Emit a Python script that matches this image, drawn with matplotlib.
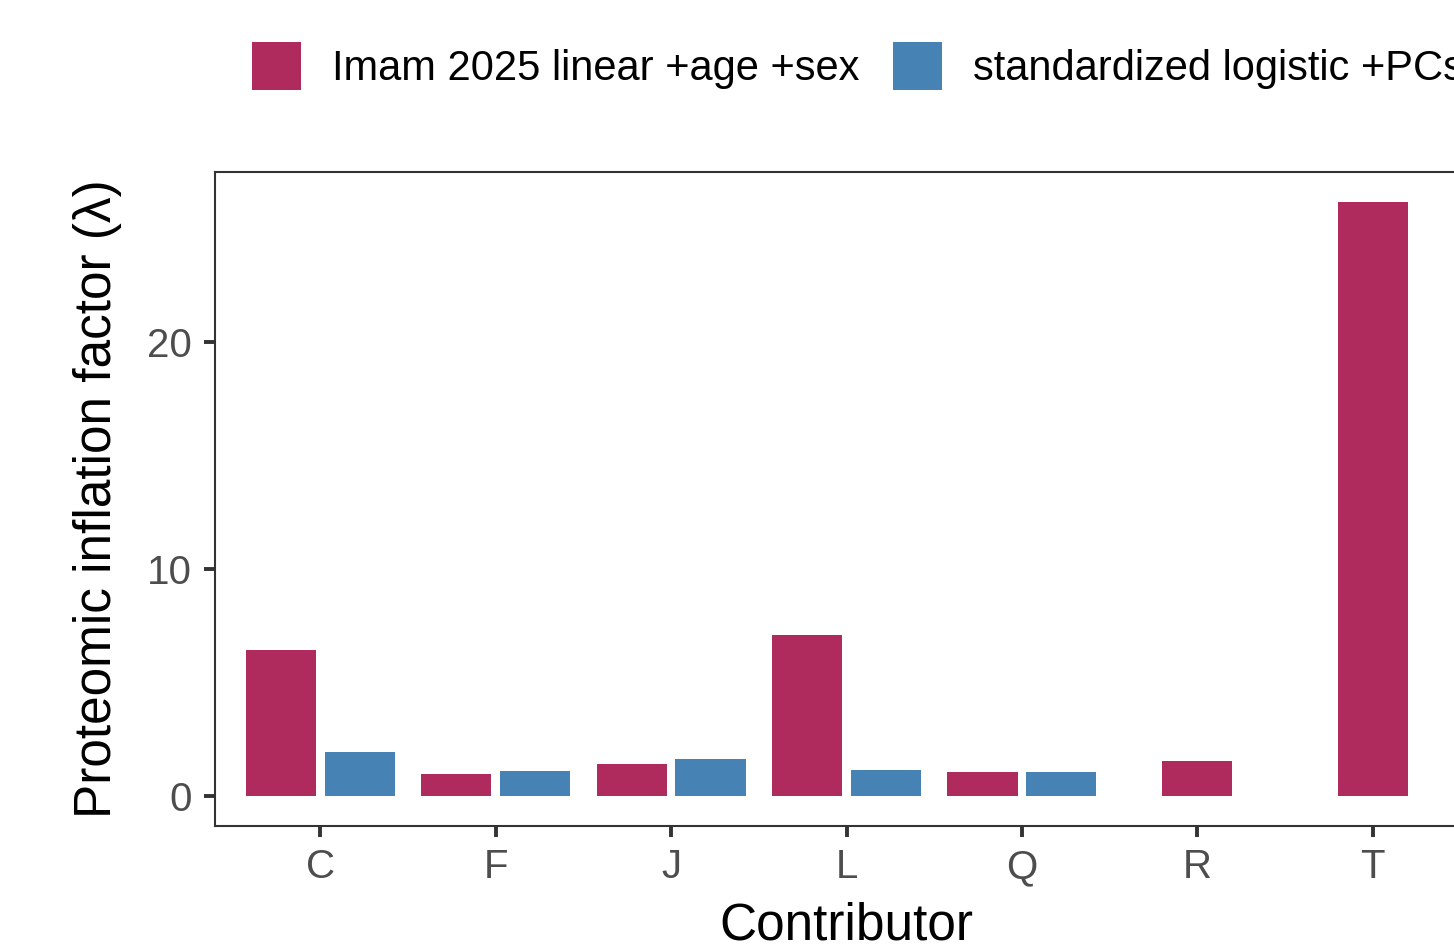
import numpy as np
import matplotlib
matplotlib.use("Agg")
import matplotlib.pyplot as plt
from matplotlib.patches import Patch

plt.rcParams['font.family'] = ['Liberation Sans', 'DejaVu Sans']

# Inflation factors per contributor
categories = ['C', 'F', 'J', 'L', 'Q', 'R', 'T']
imam_linear = [6.43, 1.00, 1.44, 7.09, 1.05, 1.53, 26.15]
std_logistic = [1.93, 1.09, 1.62, 1.14, 1.05, np.nan, np.nan]
series_names = ['Imam 2025 linear +age +sex', 'standardized logistic +PCs']
series_colors = ['#AF2B5D', '#4682B4']

W, H = 1454, 951
fig = plt.figure(figsize=(W / 100, H / 100), dpi=100)
fig.patch.set_facecolor('white')

ax_left, ax_right, ax_top, ax_bottom = 215, 1478, 172, 826
ax = fig.add_axes([ax_left / W, 1 - ax_bottom / H,
                   (ax_right - ax_left) / W, (ax_bottom - ax_top) / H])

bar_w = 0.40
offset = 0.225
x = np.arange(len(categories))
for i, cat in enumerate(categories):
    a, b = imam_linear[i], std_logistic[i]
    if np.isnan(b):
        ax.bar(x[i], a, width=bar_w, color=series_colors[0], linewidth=0)
    else:
        ax.bar(x[i] - offset, a, width=bar_w, color=series_colors[0], linewidth=0)
        ax.bar(x[i] + offset, b, width=bar_w, color=series_colors[1], linewidth=0)

ymax = np.nanmax(imam_linear + std_logistic)
ax.set_xlim(-0.6, len(categories) - 0.4)
ax.set_ylim(-0.05 * ymax, 1.05 * ymax)

ax.set_xticks(x)
ax.set_xticklabels(categories)
ax.set_yticks([0, 10, 20])
ax.tick_params(axis='both', labelsize=29, labelcolor='#4D4D4D', color='#333333',
               length=8, width=2.8)
ax.tick_params(axis='x', pad=8)
ax.tick_params(axis='y', pad=9)
for s in ax.spines.values():
    s.set_color('#333333')
    s.set_linewidth(1.5)

# Axis titles
fig.text(((ax_left + ax_right) / 2) / W, 1 - 939 / H, 'Contributor',
         fontsize=37, ha='center', va='baseline', color='black')
fig.text(111 / W, 1 - ((ax_top + ax_bottom) / 2) / H,
         'Proteomic inflation factor (λ)', fontsize=37, rotation=90,
         rotation_mode='anchor', ha='center', va='baseline', color='black')

# Legend across the top
handles = [Patch(facecolor=c, edgecolor='none') for c in series_colors]
fig.legend(handles, series_names, loc='center left',
           bbox_to_anchor=(252 / W, 1 - 66 / H), ncol=2, frameon=False,
           fontsize=30, handlelength=1.18, handleheight=1.43,
           handletextpad=0.74, columnspacing=0.8, borderpad=0, borderaxespad=0)

fig.savefig('out.png', dpi=100)
